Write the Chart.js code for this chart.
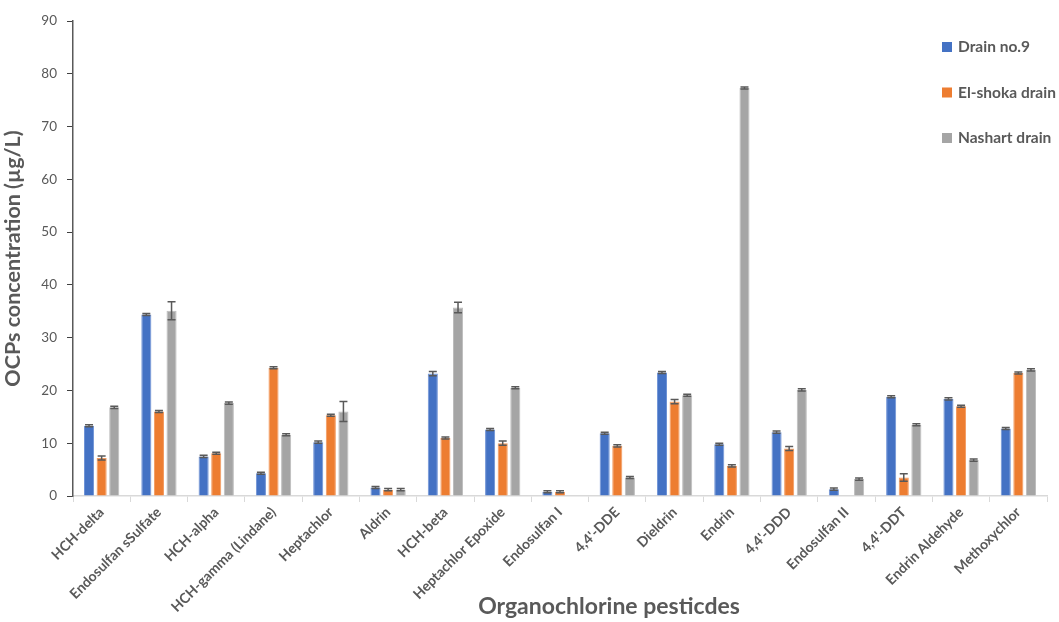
<!DOCTYPE html>
<html>
<head>
<meta charset="utf-8">
<script src="https://cdn.jsdelivr.net/npm/chart.js@4/dist/chart.umd.min.js"></script>
<style>
  html, body { margin: 0; padding: 0; background: #fff; }
  #wrap { width: 1059px; height: 622px; }
</style>
</head>
<body>
<div id="wrap"><canvas id="chart"></canvas></div>
<script>
// categories
const pesticides = ["HCH-delta", "Endosulfan sSulfate", "HCH-alpha", "HCH-gamma (Lindane)", "Heptachlor",
  "Aldrin", "HCH-beta", "Heptachlor Epoxide", "Endosulfan I", "4,4'-DDE", "Dieldrin", "Endrin",
  "4,4'-DDD", "Endosulfan II", "4,4'-DDT", "Endrin Aldehyde", "Methoxychlor"];

// values (µg/L)
const drain9 = [13.3, 34.4, 7.5, 4.3, 10.2, 1.6, 23.2, 12.6, 0.8, 11.9, 23.4, 9.8, 12.1, 1.3, 18.8, 18.4, 12.8];
const elShoka = [7.2, 16.0, 8.1, 24.3, 15.3, 1.2, 11.0, 10.0, 0.8, 9.5, 17.9, 5.7, 9.0, 0, 3.5, 17.0, 23.3];
const nashart = [16.8, 35.1, 17.6, 11.6, 16.0, 1.2, 35.7, 20.5, 0, 3.5, 19.1, 77.3, 20.1, 3.2, 13.5, 6.8, 23.9];

// standard deviations
const drain9Err = [0.2, 0.2, 0.2, 0.2, 0.2, 0.2, 0.4, 0.2, 0.2, 0.2, 0.2, 0.2, 0.2, 0.2, 0.2, 0.2, 0.2];
const elShokaErr = [0.4, 0.2, 0.2, 0.2, 0.2, 0.2, 0.2, 0.4, 0.2, 0.2, 0.4, 0.2, 0.4, 0, 0.7, 0.2, 0.2];
const nashartErr = [0.2, 1.7, 0.2, 0.2, 1.9, 0.2, 1.0, 0.2, 0, 0.2, 0.2, 0.2, 0.2, 0.2, 0.2, 0.2, 0.2];

const yTicks = [0, 10, 20, 30, 40, 50, 60, 70, 80, 90];

const textGray = '#595959';
const fontFamily = 'Lato, "Open Sans", sans-serif';
const xTitle = 'Organochlorine pesticdes';

// error bars drawn over the bars
const errorBarPlugin = {
  id: 'errorBars',
  afterDatasetsDraw(chart) {
    const ctx = chart.ctx;
    const y = chart.scales.y;
    chart.data.datasets.forEach((ds, i) => {
      const meta = chart.getDatasetMeta(i);
      meta.data.forEach((bar, j) => {
        const v = ds.data[j];
        const e = ds.errors[j];
        if (!v) return;
        const top = y.getPixelForValue(v + e);
        const bot = y.getPixelForValue(v - e);
        ctx.save();
        ctx.strokeStyle = '#595959';
        ctx.lineWidth = 1.5;
        ctx.beginPath();
        ctx.moveTo(bar.x, top); ctx.lineTo(bar.x, bot);
        ctx.moveTo(bar.x - 4, top); ctx.lineTo(bar.x + 4, top);
        ctx.moveTo(bar.x - 4, bot); ctx.lineTo(bar.x + 4, bot);
        ctx.stroke();
        ctx.restore();
      });
    });
  }
};

// legend inside the plot (top right) and the x title, which sits right of centre
const legendPlugin = {
  id: 'innerLegend',
  afterDraw(chart) {
    const ctx = chart.ctx;
    ctx.save();
    ctx.font = 'bold 15.5px ' + fontFamily;
    ctx.textBaseline = 'middle';
    chart.data.datasets.forEach((ds, i) => {
      const cy = 47 + i * 45.5;
      ctx.fillStyle = ds.backgroundColor;
      ctx.fillRect(942, cy - 5, 10, 10);
      ctx.fillStyle = textGray;
      ctx.fillText(ds.label, 958, cy);
    });
    ctx.font = 'bold 23px ' + fontFamily;
    ctx.textAlign = 'center';
    ctx.fillText(xTitle, 609, 607);
    ctx.restore();
  }
};

new Chart(document.getElementById('chart'), {
  type: 'bar',
  data: {
    labels: pesticides,
    datasets: [
      { label: 'Drain no.9', data: drain9, errors: drain9Err, backgroundColor: '#4472C4', borderColor: '#6f93d6', borderWidth: 1 },
      { label: 'El-shoka drain', data: elShoka, errors: elShokaErr, backgroundColor: '#ED7D31', borderColor: '#f39a5e', borderWidth: 1 },
      { label: 'Nashart drain', data: nashart, errors: nashartErr, backgroundColor: '#A5A5A5', borderColor: '#bdbdbd', borderWidth: 1 }
    ]
  },
  options: {
    responsive: true,
    maintainAspectRatio: false,
    animation: false,
    devicePixelRatio: 1,
    layout: { padding: { top: 21, right: 12, left: 0, bottom: 0 } },
    datasets: { bar: { categoryPercentage: 0.66, barPercentage: 0.8 } },
    plugins: {
      legend: { display: false },
      tooltip: { enabled: false }
    },
    scales: {
      x: {
        grid: { display: true, offset: true, drawOnChartArea: false, tickLength: 6, color: '#d9d9d9' },
        border: { color: '#d9d9d9', width: 1.5 },
        ticks: {
          color: textGray, minRotation: 45, maxRotation: 45, autoSkip: false,
          font: { family: fontFamily, size: 14, weight: 'bold' }, padding: 2
        },
        afterFit(scale) { scale.height = 126; }
      },
      y: {
        min: 0, max: 90,
        afterBuildTicks(scale) { scale.ticks = yTicks.map(v => ({ value: v })); },
        grid: { display: true, drawOnChartArea: false, tickLength: 6, color: '#404040' },
        border: { color: '#595959', width: 1.5 },
        ticks: { color: textGray, font: { family: fontFamily, size: 13.5 }, padding: 10 },
        title: {
          display: true, text: 'OCPs concentration (µg/L)', color: textGray,
          font: { family: fontFamily, size: 21.5, weight: 'bold' }, padding: { top: 0, bottom: 3 }
        },
        afterFit(scale) { scale.width = 73; }
      }
    }
  },
  plugins: [errorBarPlugin, legendPlugin]
});
</script>
</body>
</html>
